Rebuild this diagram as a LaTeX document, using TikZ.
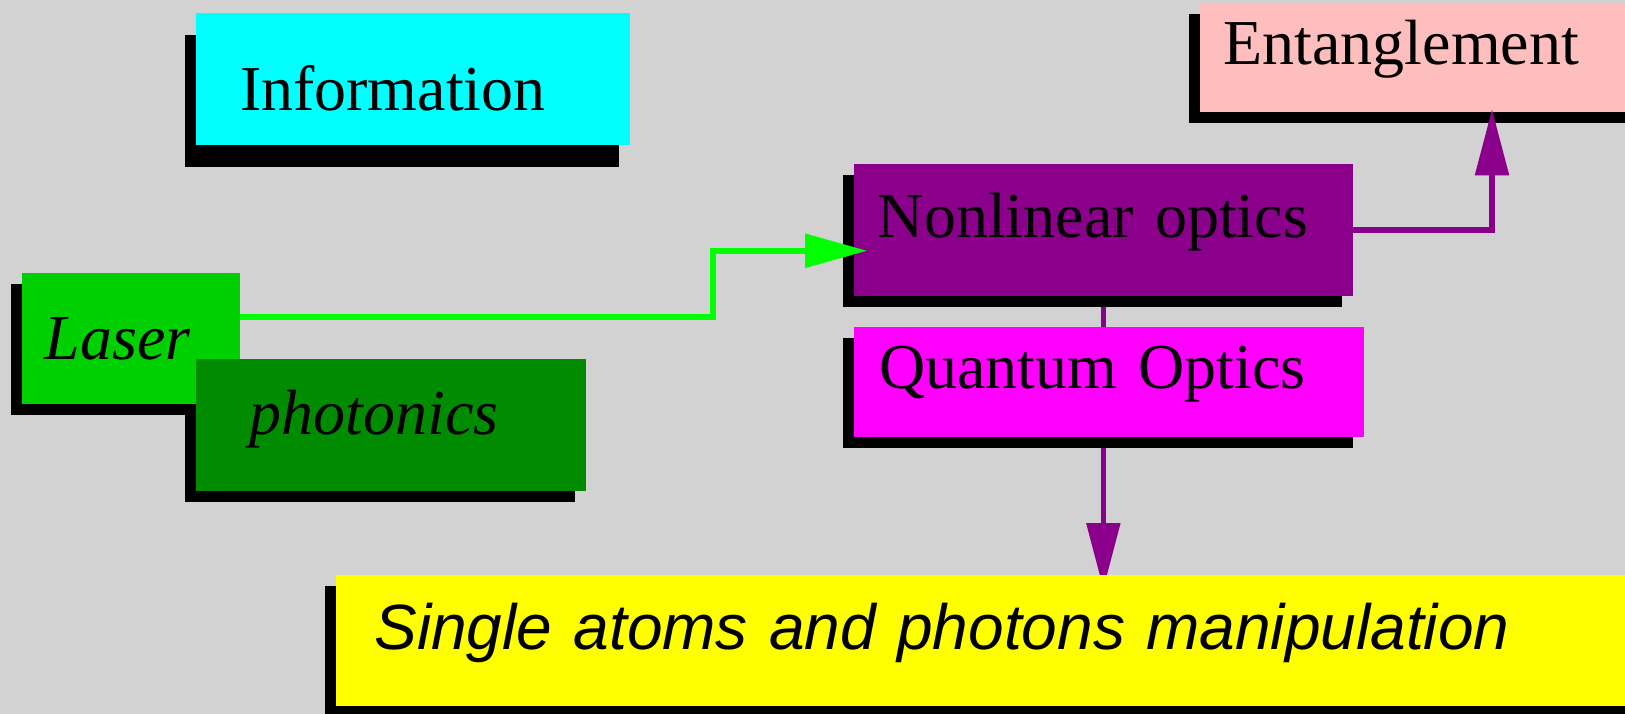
\documentclass[tikz,border=0pt]{standalone}
\usepackage{fontspec}
\setmainfont{Liberation Serif}
\setsansfont{Liberation Sans}
\usepackage{tikz}
\usetikzlibrary{
  arrows.meta,
  calc
}
\definecolor{canvasgray}{RGB}{210,210,210}
\definecolor{infocyan}{RGB}{0,255,255}
\definecolor{lasergreen}{RGB}{0,208,0}
\definecolor{photongreen}{RGB}{0,139,0}
\definecolor{nonlinpurple}{RGB}{139,0,139}
\definecolor{quantmagenta}{RGB}{255,0,255}
\definecolor{entangpink}{RGB}{255,190,190}
\definecolor{singleyellow}{RGB}{255,255,0}
\definecolor{wiregreen}{RGB}{0,255,0}
\newcommand{\bigtext}{\fontsize{64pt}{70pt}\selectfont}
\pgfdeclarelayer{canvas}
\pgfdeclarelayer{wires}
\pgfdeclarelayer{shadows}
\pgfsetlayers{canvas,wires,shadows,main}

\begin{document}
\begin{tikzpicture}[
  x=1pt, y=-1pt,
  box/.style={
    anchor=north west,
    inner ysep=0pt,
    outer sep=0pt,
    align=left,
    font=\bigtext
  },
  wire/.style={line width=5.5pt},
  tip/.style={-{Triangle[length=#1,width=33pt]}}
]
\useasboundingbox (0,0) rectangle (1625,714);
\begin{pgfonlayer}{canvas}
  \fill[canvasgray] (0,0) rectangle (1625,714);
\end{pgfonlayer}

\node[box, fill=infocyan, inner xsep=44.5pt, text width=345pt, text height=97.7pt, text depth=34pt] (info) at (195.5,13.3) {Information};
\node[box, fill=lasergreen, inner xsep=22.3pt, text width=173.4pt, text height=86.6pt, text depth=44.7pt] (laser) at (22.3,272.7) {\itshape Laser};
\node[box, fill=photongreen, inner xsep=54pt, text width=282.7pt, text height=75pt, text depth=56.4pt] (photo) at (195.5,359.3) {\itshape photonics};
\node[box, fill=nonlinpurple, inner xsep=23.7pt, text width=450.9pt, text height=73pt, text depth=58.7pt] (nonlin) at (854.2,164.3) {Nonlinear optics};
\node[box, fill=quantmagenta, inner xsep=24.8pt, text width=460.2pt, text height=61.6pt, text depth=48.4pt] (quant) at (854.2,326.7) {Quantum Optics};
\node[box, fill=entangpink, inner xsep=23.6pt, text width=392.8pt, text height=62.3pt, text depth=47.3pt] (entang) at (1200,2.7) {Entanglement};
\node[box, fill=singleyellow, inner xsep=39pt, text width=1227pt, text height=74.3pt, text depth=56.7pt, font=\bigtext\sffamily\itshape] (single) at (335.5,575) {Single atoms and photons manipulation};

% drop shadows, below every box
\begin{pgfonlayer}{shadows}
  \foreach \n/\dy in {info/22,laser/11,photo/11,nonlin/11,quant/11,entang/11,single/11}
    \fill[black] ([xshift=-11pt,yshift=-\dy pt]\n.south west) rectangle ([xshift=-11pt,yshift=-\dy pt]\n.north east);
\end{pgfonlayer}

% runs behind Quantum Optics
\begin{pgfonlayer}{wires}
  \draw[wire, nonlinpurple, tip=66pt, shorten >=-14pt] (nonlin.south) -- (nonlin.south |- single.north);
\end{pgfonlayer}

\draw[wire, wiregreen, tip=62pt] ([yshift=21.6pt]laser.east) -- ++(472.8,0) |- ([xshift=13pt,yshift=-20.6pt]nonlin.west);
\draw[wire, nonlinpurple, tip=66pt] (nonlin.east) -| ([xshift=292pt,yshift=3pt]entang.south west);
\end{tikzpicture}
\end{document}
